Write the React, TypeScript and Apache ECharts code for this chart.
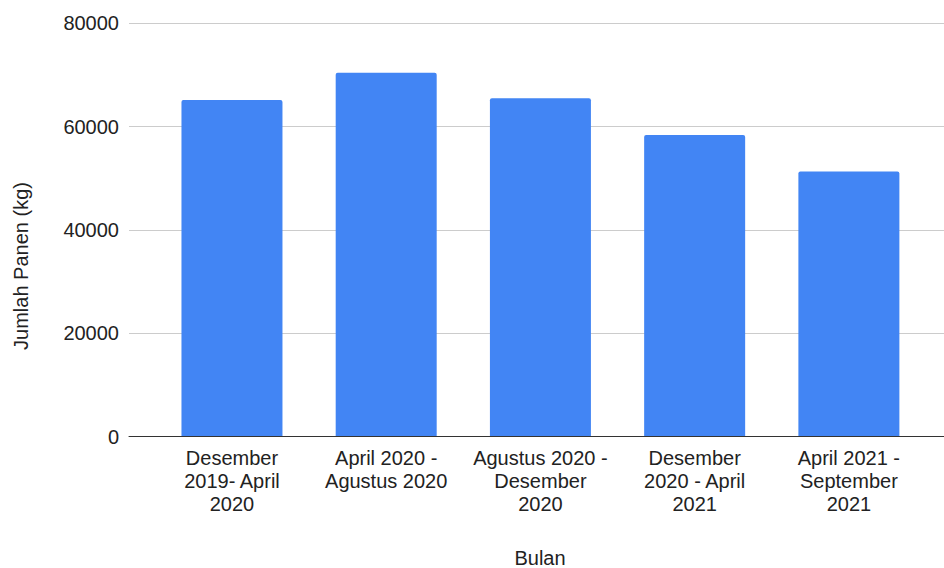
import React, { useEffect, useRef } from "react";
import * as echarts from "echarts";

const categories: string[] = [
  "Desember\n2019- April\n2020",
  "April 2020 -\nAgustus 2020",
  "Agustus 2020 -\nDesember\n2020",
  "Desember\n2020 - April\n2021",
  "April 2021 -\nSeptember\n2021",
];
const values: number[] = [65150, 70450, 65500, 58400, 51300];
const yMin = 0;
const yMax = 80000;
const yInterval = 20000;
const yTitle = "Jumlah Panen (kg)";
const xTitle = "Bulan";

const FONT = "Arial, 'Liberation Sans', sans-serif";

export default function App() {
  const ref = useRef<HTMLDivElement>(null);
  useEffect(() => {
    if (!ref.current) return;
    const chart = echarts.init(ref.current, undefined, { renderer: "svg" });
    const top = 23.3;
    const bottom = 568 - 436.7;
    chart.setOption({
      animation: false,
      backgroundColor: "#ffffff",
      textStyle: { fontFamily: FONT },
      grid: [
        { left: 129, right: 0, top, bottom },
        { left: 154.85, right: 18, top, bottom },
      ],
      xAxis: [
        {
          type: "value",
          gridIndex: 0,
          min: 0,
          max: 1,
          z: 10,
          axisLine: { show: true, lineStyle: { color: "#333333", width: 1 } },
          axisTick: { show: false },
          axisLabel: { show: false },
          splitLine: { show: false },
        },
        {
          type: "category",
          gridIndex: 1,
          data: categories,
          axisLine: { show: false },
          axisTick: { show: false },
          axisLabel: {
            interval: 0,
            fontSize: 20,
            lineHeight: 23,
            color: "#222222",
            margin: 10,
            fontFamily: FONT,
          },
        },
      ],
      yAxis: [
        {
          type: "value",
          gridIndex: 0,
          min: yMin,
          max: yMax,
          interval: yInterval,
          axisLine: { show: false },
          axisTick: { show: false },
          axisLabel: {
            fontSize: 20,
            color: "#222222",
            margin: 10,
            fontFamily: FONT,
            formatter: (v: number) => String(v),
          },
          splitLine: { show: true, lineStyle: { color: "#cccccc", width: 1 } },
        },
        {
          type: "value",
          gridIndex: 1,
          min: yMin,
          max: yMax,
          interval: yInterval,
          show: false,
          splitLine: { show: false },
        },
      ],
      series: [
        {
          type: "bar",
          xAxisIndex: 1,
          yAxisIndex: 1,
          data: values,
          barWidth: 101,
          itemStyle: { color: "#4285F4", borderRadius: [2, 2, 0, 0] },
        },
      ],
      graphic: [
        {
          type: "text",
          x: 21,
          y: 266,
          rotation: Math.PI / 2,
          style: {
            text: yTitle,
            fontSize: 20,
            fontFamily: FONT,
            fill: "#222222",
            textAlign: "center",
            textVerticalAlign: "middle",
          },
        },
        {
          type: "text",
          x: 540,
          y: 558,
          style: {
            text: xTitle,
            fontSize: 20,
            fontFamily: FONT,
            fill: "#222222",
            textAlign: "center",
            textVerticalAlign: "middle",
          },
        },
      ],
    });
    return () => chart.dispose();
  }, []);
  return (
    <div
      ref={ref}
      style={{ position: "fixed", left: 0, top: 0, width: 944, height: 568 }}
    />
  );
}
